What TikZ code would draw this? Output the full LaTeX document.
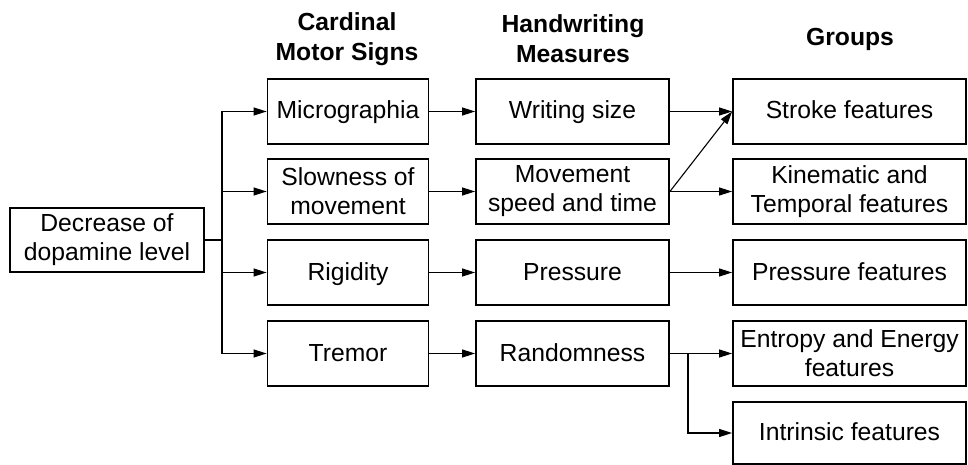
\documentclass[tikz,border=0pt]{standalone}
\usepackage{fontspec}
\setmainfont{Liberation Sans}
\usetikzlibrary{arrows.meta}

\tikzset{
  box/.style={draw, line width=1.8pt, inner sep=0pt, align=center,
    minimum height=65pt, font=\fontsize{24.7}{29}\selectfont},
  one/.style={text height=18pt, text depth=3pt},
  head/.style={align=center, font=\fontsize{24.7}{30}\selectfont\bfseries},
  arr/.style={line width=1.1pt, -{Triangle[length=13pt,width=8pt]}},
  lin/.style={line width=1.1pt}
}

\begin{document}
\begin{tikzpicture}[x=1pt, y=-1pt]
  \useasboundingbox (0,0) rectangle (968,465);

  % column headings
  \node[head] (h1) at (347, 39) {Cardinal\\Motor Signs};
  \node[head] (h2) at (573, 39) {Handwriting\\Measures};
  \node[head] (h3) at (850, 39) {Groups};

  % source
  \node[box, minimum width=194pt, minimum height=64pt] (dec) at (107, 240) {Decrease of\\dopamine level};

  % motor signs
  \node[box, one, minimum width=161pt] (mic)  at (348, 111.5) {Micrographia};
  \node[box, minimum width=161pt]      (slow) at (348, 191.5) {Slowness of\\movement};
  \node[box, one, minimum width=161pt] (rig)  at (348, 272.5) {Rigidity};
  \node[box, one, minimum width=161pt] (trem) at (348, 353.5) {Tremor};

  % handwriting measures
  \node[box, one, minimum width=193pt] (ws)   at (572.5, 111.5) {Writing size};
  \node[box, minimum width=193pt]      (mst)  at (572.5, 191.5) {Movement\\speed and time};
  \node[box, one, minimum width=193pt] (pres) at (572.5, 272.5) {Pressure};
  \node[box, one, minimum width=193pt] (rand) at (572.5, 353.5) {Randomness};

  % groups
  \node[box, one, minimum width=233pt] (stk)  at (849.5, 111.5) {Stroke features};
  \node[box, minimum width=233pt]      (kin)  at (849.5, 191.5) {Kinematic and\\Temporal features};
  \node[box, one, minimum width=233pt] (pf)   at (849.5, 272.5) {Pressure features};
  \node[box, minimum width=233pt]      (ent)  at (849.5, 353.5) {Entropy and Energy\\features};
  \node[box, one, minimum width=233pt, minimum height=62pt] (intr) at (849.5, 433) {Intrinsic features};

  \coordinate (sp) at (222, 240);
  \coordinate (rb) at (688, 353.5);

  \draw[lin] (dec.east) -- (sp);
  \draw[arr] (sp) |- (mic.west);
  \draw[arr] (sp) |- (slow.west);
  \draw[arr] (sp) |- (rig.west);
  \draw[arr] (sp) |- (trem.west);

  \draw[arr] (mic.east) -- (ws.west);
  \draw[arr] (slow.east) -- (mst.west);
  \draw[arr] (rig.east) -- (pres.west);
  \draw[arr] (trem.east) -- (rand.west);

  \draw[arr] (ws.east) -- (stk.west);
  \draw[arr] (mst.east) -- (stk.west);
  \draw[arr] (mst.east) -- (kin.west);
  \draw[arr] (pres.east) -- (pf.west);
  \draw[arr] (rand.east) -- (ent.west);
  \draw[lin] (rand.east) -- (rb);
  \draw[arr] (rb) |- (intr.west);
\end{tikzpicture}
\end{document}
